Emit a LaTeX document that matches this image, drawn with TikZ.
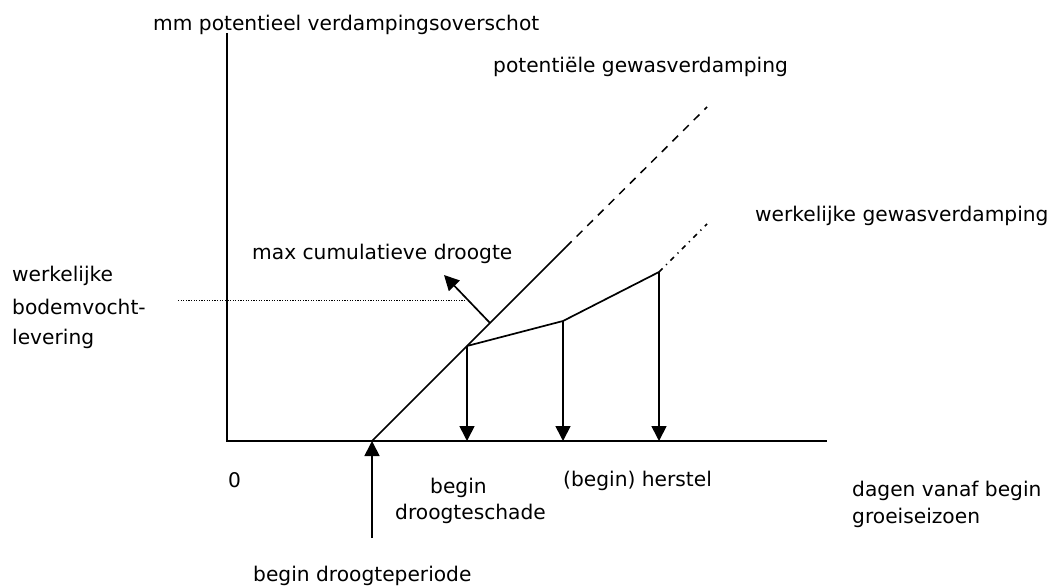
\documentclass[tikz,border=0pt]{standalone}
\usepackage{fontspec}
\setmainfont{DejaVu Sans}
\usetikzlibrary{arrows.meta}
\begin{document}
\begin{tikzpicture}[x=1pt,y=-1pt,
  lbl/.style={anchor=base west,inner sep=0pt,font=\fontsize{20.2}{24}\selectfont},
  axis/.style={line width=1.8pt},
  curve/.style={line width=1.7pt},
  arr/.style={line width=1.7pt,-{Triangle[width=15pt,length=15pt]}},
  ext/.style={line width=1.5pt,dash pattern=on 8pt off 7pt},
  extdot/.style={line width=1.5pt,dash pattern=on 5pt off 5pt on 1.2pt off 5pt},
  guide/.style={line width=1pt,dash pattern=on 1.2pt off 1.4pt}]
\path[use as bounding box,fill=white] (0,0) rectangle (1056,588);
% coordinates
\coordinate (O) at (227,441);
\coordinate (Ytop) at (227,33);
\coordinate (Xend) at (827,441);
\coordinate (P0) at (372,441);
\coordinate (P1) at (467,346);
\coordinate (Pmid) at (566,247);
\coordinate (Ptop) at (707,107);
\coordinate (A2) at (563,321);
\coordinate (A3) at (659,272);
\coordinate (Aend) at (707,224);
\coordinate (B1) at (467,441);
\coordinate (B2) at (563,441);
\coordinate (B3) at (659,441);
\coordinate (S) at (372,538);
\coordinate (M0) at (490,323);
\coordinate (M1) at (444,275);
\coordinate (D0) at (178,300);
\coordinate (D1) at (465,300);
% axes
\draw[axis] (Ytop) -- (O) -- (Xend);
% potential
\draw[curve] (P0) -- (Pmid);
\draw[ext] (Pmid) -- (Ptop);
% actual
\draw[curve,line join=miter] (P1) -- (A2) -- (A3);
\draw[extdot] (A3) -- (Aend);
% arrows
\draw[arr] (P1) -- (B1);
\draw[arr] (A2) -- (B2);
\draw[arr] (A3) -- (B3);
\draw[arr] (S) -- (P0);
\draw[arr] (M0) -- (M1);
% dotted guide
\draw[guide] (D0) -- (D1);
% labels
\node[lbl] (ylab) at (153,31) {mm potentieel verdampingsoverschot};
\node[lbl] (plab) at (493,73) {potentiële gewasverdamping};
\node[lbl] (wlab) at (755,221) {werkelijke gewasverdamping};
\node[lbl] (mlab) at (252,259) {max cumulatieve droogte};
\node[lbl] (bl1) at (12,281) {werkelijke};
\node[lbl] (bl2) at (12,314) {bodemvocht-};
\node[lbl] (bl3) at (12,344) {levering};
\node[lbl] (zero) at (228,487) {0};
\node[lbl] (bds1) at (430,493) {begin};
\node[lbl] (bds2) at (395,519) {droogteschade};
\node[lbl] (herst) at (563,486) {(begin) herstel};
\node[lbl] (xl1) at (852,496) {dagen vanaf begin};
\node[lbl] (xl2) at (852,523) {groeiseizoen};
\node[lbl] (bdp) at (253,581) {begin droogteperiode};
\end{tikzpicture}
\end{document}
